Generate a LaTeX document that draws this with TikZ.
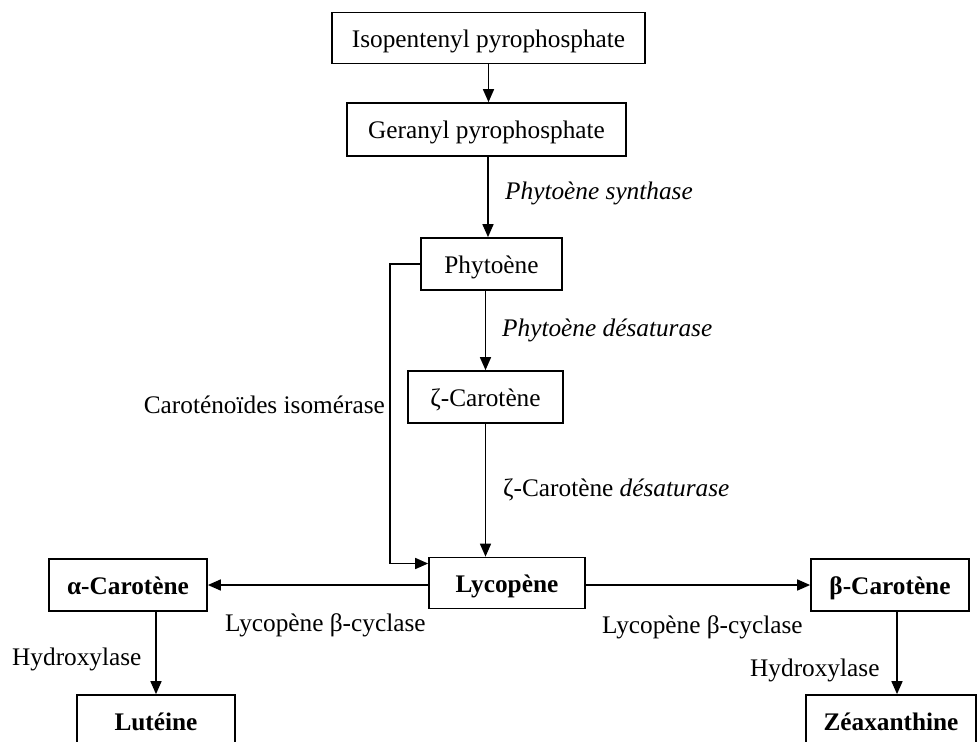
\documentclass[tikz,border=0pt]{standalone}
\usepackage{fontspec}
\setmainfont{Liberation Serif}
\usetikzlibrary{arrows.meta}
\tikzset{
  box/.style={draw, line width=1.7pt, inner sep=0pt, align=center, text height=20pt, text depth=2pt, font=\fontsize{25.3}{30}\selectfont},
  bbox/.style={box, font=\fontsize{25.3}{30}\selectfont\bfseries},
  lbl/.style={inner sep=0pt, font=\fontsize{25.3}{30}\selectfont},
  ilbl/.style={lbl, font=\fontsize{25.3}{30}\selectfont\itshape},
  arr/.style={line width=1.6pt, -{Triangle[length=13pt,width=11pt]}}
}
\begin{document}
\begin{tikzpicture}[x=1pt,y=-1pt]
\useasboundingbox (0,0) rectangle (978,742);
\clip (0,0) rectangle (978,742);
% boxes
\node[box, minimum width=313pt, minimum height=51pt] (ipp) at (488.5,38) {Isopentenyl pyrophosphate};
\node[box, minimum width=279pt, minimum height=53pt] (ger) at (486.5,129.5) {Geranyl pyrophosphate};
\node[box, minimum width=141pt, minimum height=52pt] (phy) at (491.5,264) {Phytoène};
\node[box, minimum width=155pt, minimum height=52pt] (zeta) at (485.5,397) {ζ-Carotène};
\node[bbox, minimum width=156pt, minimum height=51pt] (lyc) at (507,583) {Lycopène};
\node[bbox, minimum width=158pt, minimum height=52pt] (alpha) at (128,585) {α-Carotène};
\node[bbox, minimum width=158pt, minimum height=52pt] (beta) at (890,585) {β-Carotène};
\node[bbox, minimum width=158pt, minimum height=52pt] (lut) at (156,721) {Lutéine};
\node[bbox, minimum width=170pt, minimum height=52pt] (zea) at (891,721) {Zéaxanthine};
% labels
\node[ilbl, anchor=west] (l1) at (505,193) {Phytoène synthase};
\node[ilbl, anchor=west] (l2) at (502,330) {Phytoène désaturase};
\node[lbl, anchor=west] (l3) at (503,490) {ζ-Carotène \textit{désaturase}};
\node[lbl, anchor=east] (l4) at (385,405) {Caroténoïdes isomérase};
\node[lbl, anchor=west] (l5) at (225,625) {Lycopène β-cyclase};
\node[lbl, anchor=west] (l6) at (602,627) {Lycopène β-cyclase};
\node[lbl, anchor=west] (l7) at (12,659) {Hydroxylase};
\node[lbl, anchor=west] (l8) at (750,670) {Hydroxylase};
% connectors
\draw[arr] (ipp.south) -- (ipp.south |- ger.north);
\draw[arr] ([xshift=1.5pt]ger.south) -- ([xshift=1.5pt]ger.south |- phy.north);
\draw[arr] (zeta.north |- phy.south) -- (zeta.north);
\draw[arr] (zeta.south) -- (zeta.south |- lyc.north);
\draw[arr] (phy.west) -- ++(-30,0) |- ([yshift=19.5pt]lyc.west);
\draw[arr] (lyc.west |- alpha.east) -- (alpha.east);
\draw[arr] (lyc.east |- beta.west) -- (beta.west);
\draw[arr] (lut.north |- alpha.south) -- (lut.north);
\draw[arr] ([xshift=7pt]beta.south) -- ([xshift=7pt]beta.south |- zea.north);
\end{tikzpicture}
\end{document}
